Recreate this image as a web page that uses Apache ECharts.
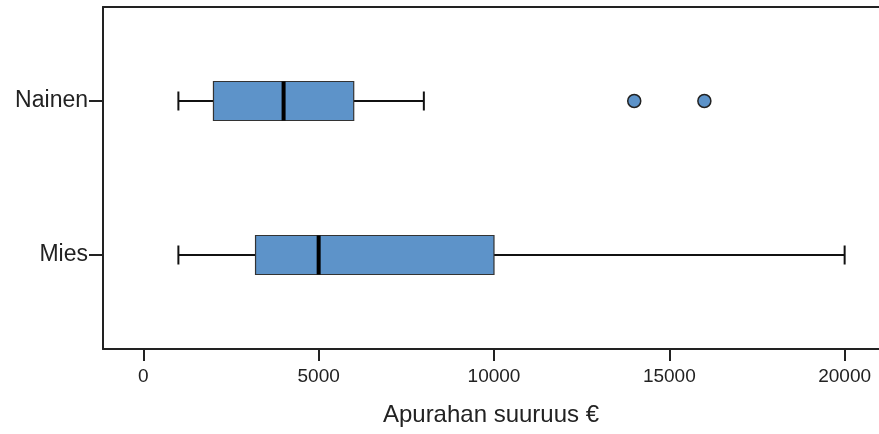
<!DOCTYPE html>
<html>
<head>
<meta charset="utf-8">
<script src="https://cdn.jsdelivr.net/npm/echarts@6/dist/echarts.min.js"></script>
<style>
html,body{margin:0;padding:0;background:#fff;}
#chart{width:879px;height:434px;}
</style>
</head>
<body>
<div id="chart"></div>
<script>
const categories = ['Mies', 'Nainen'];
const whiskerLow = [1000, 1000];
const q1 = [3200, 2000];
const medians = [5000, 4000];
const q3 = [10000, 6000];
const whiskerHigh = [20000, 8000];
const outliers = [[14000, 'Nainen'], [16000, 'Nainen']];
const xTicks = [0, 5000, 10000, 15000, 20000];
const axisTitle = 'Apurahan suuruus €';

const boxData = categories.map((c, i) => [i, whiskerLow[i], q1[i], medians[i], q3[i], whiskerHigh[i]]);
const outlierData = outliers.map(o => [o[0], categories.indexOf(o[1])]);

const FONT = 'Liberation Sans, Arial, sans-serif';
const LINE = '#222';
const BOX = '#5d93c9';
const XMIN = -1150, XMAX = 20980;

const chart = echarts.init(document.getElementById('chart'));
chart.setOption({
  animation: false,
  backgroundColor: '#fff',
  grid: [
    {left: 103, right: 0, top: 7, height: 342},
    {left: 103, right: 0, top: 24, height: 308}
  ],
  xAxis: [
    {
      gridIndex: 0, type: 'value', position: 'bottom', min: XMIN, max: XMAX,
      axisLine: {show: true, onZero: false, lineStyle: {color: LINE, width: 2}},
      axisTick: {show: true, length: 12, lineStyle: {color: LINE, width: 2}, customValues: xTicks},
      axisLabel: {show: true, margin: 18, color: '#222', fontSize: 19, fontFamily: FONT,
        customValues: xTicks, formatter: v => String(v)},
      splitLine: {show: false},
      name: axisTitle, nameLocation: 'middle', nameGap: 54,
      nameTextStyle: {color: '#222', fontSize: 24, fontFamily: FONT}
    },
    {
      gridIndex: 0, type: 'value', position: 'top', min: XMIN, max: XMAX,
      axisLine: {show: true, onZero: false, lineStyle: {color: LINE, width: 2}},
      axisTick: {show: false}, axisLabel: {show: false}, splitLine: {show: false}
    },
    {
      gridIndex: 1, type: 'value', min: XMIN, max: XMAX, show: false
    }
  ],
  yAxis: [
    {
      gridIndex: 0, type: 'value', min: 0, max: 1, position: 'left',
      axisLine: {show: true, onZero: false, lineStyle: {color: LINE, width: 2}},
      axisTick: {show: false}, axisLabel: {show: false}, splitLine: {show: false}
    },
    {
      gridIndex: 1, type: 'category', data: categories, position: 'left',
      axisLine: {show: false, onZero: false},
      axisTick: {show: true, alignWithLabel: true, length: 14, lineStyle: {color: LINE, width: 2}},
      axisLabel: {margin: 15, color: '#222', fontSize: 23, fontFamily: FONT},
      splitLine: {show: false}
    }
  ],
  series: [
    {
      type: 'custom',
      xAxisIndex: 2, yAxisIndex: 1,
      encode: {x: [1, 2, 3, 4, 5], y: 0},
      data: boxData,
      renderItem: function (params, api) {
        const cat = api.value(0);
        const pLo = api.coord([api.value(1), cat]);
        const pQ1 = api.coord([api.value(2), cat]);
        const pMed = api.coord([api.value(3), cat]);
        const pQ3 = api.coord([api.value(4), cat]);
        const pHi = api.coord([api.value(5), cat]);
        const y = pLo[1];
        const h = 39, cap = 19;
        const ls = {stroke: '#111', lineWidth: 2};
        return {
          type: 'group',
          children: [
            {type: 'line', shape: {x1: pLo[0], y1: y, x2: pQ1[0], y2: y}, style: ls},
            {type: 'line', shape: {x1: pQ3[0], y1: y, x2: pHi[0], y2: y}, style: ls},
            {type: 'line', shape: {x1: pLo[0], y1: y - cap / 2, x2: pLo[0], y2: y + cap / 2}, style: ls},
            {type: 'line', shape: {x1: pHi[0], y1: y - cap / 2, x2: pHi[0], y2: y + cap / 2}, style: ls},
            {type: 'rect', shape: {x: pQ1[0], y: y - h / 2, width: pQ3[0] - pQ1[0], height: h},
              style: {fill: BOX, stroke: '#333', lineWidth: 1.2}},
            {type: 'line', shape: {x1: pMed[0], y1: y - h / 2, x2: pMed[0], y2: y + h / 2},
              style: {stroke: '#000', lineWidth: 4}}
          ]
        };
      }
    },
    {
      type: 'scatter',
      xAxisIndex: 2, yAxisIndex: 1,
      data: outlierData,
      symbol: 'circle',
      symbolSize: 13,
      itemStyle: {color: BOX, borderColor: '#222', borderWidth: 1.5, opacity: 1}
    }
  ]
});
</script>
</body>
</html>
